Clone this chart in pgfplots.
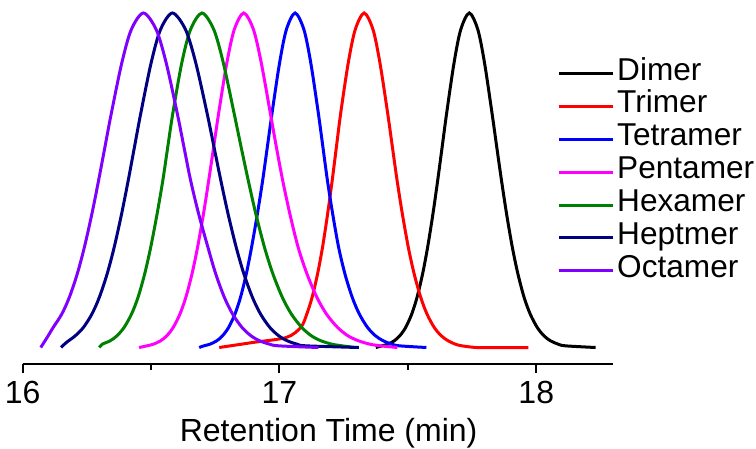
\documentclass[border=0pt]{standalone}
\usepackage{pgfplots}
\pgfplotsset{compat=1.18}
\usepackage{fontspec}
\setmainfont{Liberation Sans}
\definecolor{violetO}{RGB}{128,0,255}
\definecolor{navyO}{RGB}{0,0,128}
\definecolor{greenO}{RGB}{0,128,0}
\definecolor{magentaO}{RGB}{255,0,255}
\begin{document}
\begin{tikzpicture}
\begin{axis}[
    scale only axis,
    width=295.3pt, height=182.15pt,
    xmin=16, xmax=18.3,
    ymin=-0.0502, ymax=1.0389,
    axis x line*=bottom,
    axis y line=none,
    axis line style={line width=1pt, black},
    xtick={16,17,18},
    minor xtick={16.5,17.5},
    tick align=outside,
    major tick length=4.2pt,
    minor tick length=2.7pt,
    every tick/.style={black, line width=1pt},
    /pgf/number format/assume math mode=true,
    xticklabel style={font=\fontsize{16}{19}\selectfont, inner sep=0pt, yshift=-4pt},
    xlabel={Retention Time (min)},
    xlabel style={font=\fontsize{16}{19}\selectfont, at={(axis description cs:0.518,0)}, anchor=base, yshift=-38.7pt},
    clip=false,
    every axis plot/.append style={line width=1.5pt, smooth},
    legend cell align=left,
    legend style={at={(rel axis cs:0.9047,0.8435)}, anchor=north west,
        draw=none, fill=none, inner sep=0pt, outer sep=0pt, row sep=0pt,
        font=\fontsize{15.8}{19}\selectfont,
        nodes={inner sep=0pt, text height=11.5pt, text depth=4.95pt}},
    legend image code/.code={\draw[#1] (0pt,0pt) -- (27.35pt,0pt); \path (28.6pt,0pt);},
]
\addplot[black] coordinates {
    (17.3750,0) (17.3991,0.005) (17.4221,0.01) (17.4469,0.02) (17.4686,0.035)
    (17.4913,0.06) (17.5150,0.1) (17.5357,0.15) (17.5573,0.22) (17.5770,0.3)
    (17.5977,0.4) (17.6162,0.5) (17.6336,0.6) (17.6509,0.7) (17.6796,0.85)
    (17.7057,0.95) (17.7392,1) (17.7726,0.95) (17.7987,0.85) (17.8278,0.7)
    (17.8460,0.6) (17.8645,0.5) (17.8843,0.4) (17.9067,0.3) (17.9285,0.22)
    (17.9526,0.15) (17.9764,0.1) (18.0037,0.06) (18.0299,0.035) (18.0554,0.02)
    (18.0853,0.01) (18.1135,0.005) (18.2312,0)
};
\addlegendentry{Dimer}
\addplot[red] coordinates {
    (16.7653,0) (16.8959,0.015) (17.0265,0.03) (17.0829,0.06) (17.1064,0.1)
    (17.1270,0.15) (17.1483,0.22) (17.1677,0.3) (17.1876,0.4) (17.2054,0.5)
    (17.2218,0.6) (17.2383,0.7) (17.2676,0.85) (17.2948,0.95) (17.3298,1)
    (17.3644,0.95) (17.3914,0.85) (17.4214,0.7) (17.4396,0.6) (17.4579,0.5)
    (17.4784,0.4) (17.5016,0.3) (17.5245,0.22) (17.5500,0.15) (17.5745,0.1)
    (17.6026,0.06) (17.6301,0.035) (17.6569,0.02) (17.6848,0.01) (17.7105,0.005)
    (17.7672,0) (17.8500,0) (17.9688,0)
};
\addlegendentry{Trimer}
\addplot[blue] coordinates {
    (16.6873,0) (16.7055,0.005) (16.7295,0.01) (16.7555,0.02) (16.7782,0.035)
    (16.8019,0.06) (16.8266,0.1) (16.8482,0.15) (16.8708,0.22) (16.8914,0.3)
    (16.9141,0.4) (16.9346,0.5) (16.9528,0.6) (16.9709,0.7) (17.0002,0.85)
    (17.0267,0.95) (17.0608,1) (17.0953,0.95) (17.1221,0.85) (17.1514,0.7)
    (17.1690,0.6) (17.1866,0.5) (17.2070,0.4) (17.2302,0.3) (17.2549,0.22)
    (17.2833,0.15) (17.3110,0.1) (17.3429,0.06) (17.3738,0.035) (17.4043,0.02)
    (17.4371,0.01) (17.4669,0.005) (17.5723,0)
};
\addlegendentry{Tetramer}
\addplot[magentaO] coordinates {
    (16.4534,0) (16.4839,0.005) (16.5094,0.01) (16.5370,0.02) (16.5610,0.035)
    (16.5862,0.06) (16.6123,0.1) (16.6353,0.15) (16.6593,0.22) (16.6811,0.3)
    (16.7041,0.4) (16.7245,0.5) (16.7438,0.6) (16.7630,0.7) (16.7948,0.85)
    (16.8237,0.95) (16.8608,1) (16.8989,0.95) (16.9293,0.85) (16.9645,0.7)
    (16.9877,0.6) (17.0123,0.5) (17.0403,0.4) (17.0725,0.3) (17.1071,0.22)
    (17.1456,0.15) (17.1829,0.1) (17.2261,0.06) (17.2666,0.035) (17.3079,0.02)
    (17.3518,0.01) (17.3938,0.005) (17.4593,0)
};
\addlegendentry{Pentamer}
\addplot[greenO] coordinates {
    (16.2986,0) (16.3102,0.01) (16.3406,0.02) (16.3671,0.035) (16.3949,0.06)
    (16.4238,0.1) (16.4492,0.15) (16.4750,0.22) (16.4986,0.3) (16.5235,0.4)
    (16.5458,0.5) (16.5650,0.6) (16.5846,0.7) (16.6193,0.85) (16.6533,0.95)
    (16.6982,1) (16.7444,0.95) (16.7816,0.85) (16.8233,0.7) (16.8504,0.6)
    (16.8782,0.5) (16.9077,0.4) (16.9414,0.3) (16.9744,0.22) (17.0111,0.15)
    (17.0463,0.1) (17.0867,0.06) (17.1242,0.035) (17.1617,0.02) (17.2035,0.01)
    (17.2439,0.005) (17.2955,0)
};
\addlegendentry{Hexamer}
\addplot[navyO] coordinates {
    (16.1493,0) (16.1700,0.015) (16.2047,0.035) (16.2365,0.06) (16.2695,0.1)
    (16.2984,0.15) (16.3288,0.22) (16.3564,0.3) (16.3853,0.4) (16.4111,0.5)
    (16.4354,0.6) (16.4598,0.7) (16.4999,0.85) (16.5364,0.95) (16.5832,1)
    (16.6344,0.95) (16.6743,0.85) (16.7182,0.7) (16.7448,0.6) (16.7714,0.5)
    (16.7996,0.4) (16.8313,0.3) (16.8614,0.22) (16.8946,0.15) (16.9263,0.1)
    (16.9624,0.06) (16.9971,0.035) (17.0303,0.02) (17.0683,0.01) (17.1035,0.005)
    (17.3092,0)
};
\addlegendentry{Heptmer}
\addplot[violetO] coordinates {
    (16.0702,0) (16.0935,0.028) (16.1188,0.06) (16.1522,0.1) (16.1816,0.15)
    (16.2124,0.22) (16.2403,0.3) (16.2696,0.4) (16.2957,0.5) (16.3204,0.6)
    (16.3451,0.7) (16.3857,0.85) (16.4227,0.95) (16.4702,1) (16.5201,0.95)
    (16.5591,0.85) (16.6019,0.7) (16.6278,0.6) (16.6538,0.5) (16.6850,0.4)
    (16.7212,0.3) (16.7517,0.22) (16.7853,0.15) (16.8174,0.1) (16.8540,0.06)
    (16.8891,0.035) (16.9227,0.02) (16.9612,0.01) (16.9968,0.005) (17.1513,0)
};
\addlegendentry{Octamer}
\end{axis}
\pgfresetboundingbox
\path[use as bounding box] (-11.35pt,-42.35pt) rectangle (366.65pt,182.15pt);
\end{tikzpicture}
\end{document}
